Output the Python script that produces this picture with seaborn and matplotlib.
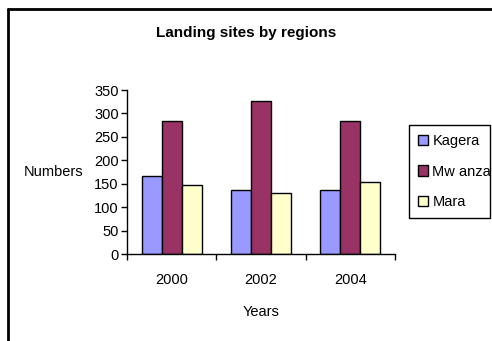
import matplotlib
matplotlib.use("Agg")
import matplotlib.pyplot as plt
from matplotlib.lines import Line2D
from matplotlib.ticker import FixedLocator
import seaborn as sns
import pandas as pd

years = ["2000", "2002", "2004"]
regions = ["Kagera", "Mw anza", "Mara"]
kagera = [166, 137, 137]
mwanza = [283, 327, 283]
mara = [147, 130, 153]
colors = ["#9999FF", "#993366", "#FFFFCC"]

df = pd.DataFrame({
    "Years": years * 3,
    "Region": [r for r in regions for _ in years],
    "Numbers": kagera + mwanza + mara,
})

sns.set_theme(style="white")
plt.rcParams["font.family"] = ["Liberation Sans", "DejaVu Sans"]
plt.rcParams["font.size"] = 10
plt.rcParams["text.color"] = "black"
plt.rcParams["axes.labelcolor"] = "black"
plt.rcParams["xtick.color"] = "black"
plt.rcParams["ytick.color"] = "black"

W, H = 492, 341
fig = plt.figure(figsize=(W / 100, H / 100), dpi=100)
fig.patch.set_facecolor("white")
ax = fig.add_axes([127 / W, 1 - 254 / H, (395 - 127) / W, (254 - 90) / H])

sns.barplot(data=df, x="Years", y="Numbers", hue="Region", hue_order=regions,
            palette=colors, width=0.675, edgecolor="black", linewidth=1,
            saturation=1, errorbar=None, ax=ax)

ax.set_xlim(-0.5, 2.5)
ax.set_ylim(0, 350)
ax.set_yticks(range(0, 351, 50))
ax.tick_params(axis="y", direction="out", length=4, width=1, color="black",
               labelsize=10.5, pad=2, left=True, labelcolor="black")
ax.tick_params(axis="x", which="major", length=0, labelsize=10.5, pad=14,
               labelcolor="black")
ax.xaxis.set_minor_locator(FixedLocator([-0.5, 0.5, 1.5, 2.5]))
ax.tick_params(axis="x", which="minor", direction="out", length=4, width=1,
               color="black", bottom=True)
for s in ["top", "right"]:
    ax.spines[s].set_visible(False)
for s in ["left", "bottom"]:
    ax.spines[s].set_color("black")
    ax.spines[s].set_linewidth(1)
ax.set_facecolor("white")
ax.grid(False)

ax.set_xlabel("Years", fontsize=10.5, labelpad=13, color="black")
ax.set_ylabel("Numbers", fontsize=10.5, rotation=0, ha="center", va="center",
              color="black")
ax.yaxis.set_label_coords(-(127 - 54) / (395 - 127), 0.5)

fig.text(0.5, 1 - 33 / H, "Landing sites by regions", ha="center",
         va="center", fontsize=11, fontweight="bold", color="black")

handles, labels = ax.get_legend_handles_labels()
leg = ax.legend(handles, labels, loc="upper left",
                bbox_to_anchor=(409 / W, 1 - 216 / H, 81 / W, (216 - 125) / H),
                bbox_transform=fig.transFigure, mode="expand",
                frameon=True, fancybox=False, framealpha=1, fontsize=10.5,
                handlelength=0.7, handleheight=0.7, handletextpad=0.3,
                labelspacing=1.15, borderpad=0.6, borderaxespad=0)
leg.get_frame().set_edgecolor("black")
leg.get_frame().set_linewidth(1)

# outer frame on the top and left of the figure
fig.add_artist(Line2D([8 / W, 8 / W], [0, 1 - 9 / H], transform=fig.transFigure,
                      color="black", linewidth=2))
fig.add_artist(Line2D([8 / W, 1], [1 - 9 / H, 1 - 9 / H], transform=fig.transFigure,
                      color="black", linewidth=2))

fig.savefig("out.png", dpi=100)
